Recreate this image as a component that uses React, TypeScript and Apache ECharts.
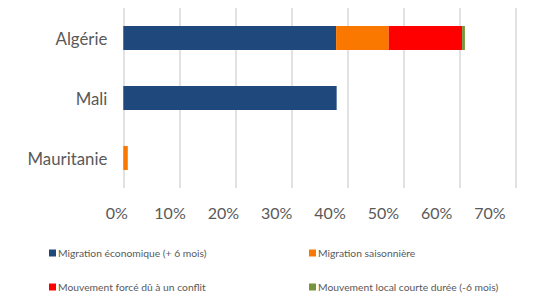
import React, { useEffect, useRef } from "react";
import * as echarts from "echarts";

const categories = ["Algérie", "Mali", "Mauritanie"];
const seriesNames = [
  "Migration économique (+ 6 mois)",
  "Migration saisonnière",
  "Mouvement forcé dû à un conflit",
  "Mouvement local courte durée (-6 mois)",
];
const economique = [38.0, 38.1, 0];
const saisonniere = [9.4, 0, 0.8];
const conflit = [13.1, 0, 0];
const local = [0.5, 0, 0];
const colors = ["#1F497D", "#FA7800", "#FF0000", "#77933C"];
const tickValues = [0, 10, 20, 30, 40, 50, 60, 70];

const FONT = "Lato, 'Open Sans', sans-serif";

export default function App() {
  const ref = useRef<HTMLDivElement>(null);
  useEffect(() => {
    if (!ref.current) return;
    const chart = echarts.init(ref.current, undefined, { renderer: "svg" });
    const dataSets = [economique, saisonniere, conflit, local];
    const legendPos = [
      { left: 44, top: 243 },
      { left: 304, top: 243 },
      { left: 44, top: 277 },
      { left: 304, top: 277 },
    ];
    chart.setOption({
      animation: false,
      grid: [
        { left: 123.3, right: 35.7, top: 8, bottom: 107 },
        { left: 116.7, width: 373.3, top: 8, bottom: 107 },
      ],
      legend: seriesNames.map((n, i) => ({
        data: [n],
        left: legendPos[i].left,
        top: legendPos[i].top,
        itemWidth: 7,
        itemHeight: 7,
        itemGap: 4,
        icon: "rect",
        textStyle: { fontFamily: FONT, fontSize: 10.3, color: "#595959", padding: [0, 0, 0, -3] },
        selectedMode: false,
      })),
      xAxis: [
        {
          gridIndex: 0,
          type: "value",
          min: 0,
          max: 70,
          interval: 10,
          axisLine: { show: false },
          axisTick: { show: false },
          axisLabel: { show: false },
          splitLine: { lineStyle: { color: "#D9D9D9", width: 1.5 } },
        },
        {
          gridIndex: 1,
          type: "value",
          min: 0,
          max: 70,
          interval: 10,
          axisLine: { show: false },
          axisTick: { show: false },
          splitLine: { show: false },
          axisLabel: {
            margin: 16,
            fontFamily: FONT,
            fontSize: 16,
            color: "#595959",
            formatter: (v: number) => (tickValues.includes(v) ? v + "%" : ""),
          },
        },
      ],
      yAxis: [
        {
          gridIndex: 0,
          type: "category",
          data: categories,
          inverse: true,
          axisLine: { show: false },
          axisTick: { show: false },
          axisLabel: { margin: 16, fontFamily: FONT, fontSize: 16.8, color: "#595959" },
        },
        {
          gridIndex: 1,
          type: "category",
          data: categories,
          show: false,
        },
      ],
      series: seriesNames.map((n, i) => ({
        name: n,
        type: "bar",
        stack: "total",
        xAxisIndex: 0,
        yAxisIndex: 0,
        barCategoryGap: "60%",
        itemStyle: { color: colors[i] },
        data: dataSets[i],
      })),
    });
    return () => chart.dispose();
  }, []);
  return <div ref={ref} style={{ width: 551, height: 295, position: "absolute", left: 0, top: 0 }} />;
}
